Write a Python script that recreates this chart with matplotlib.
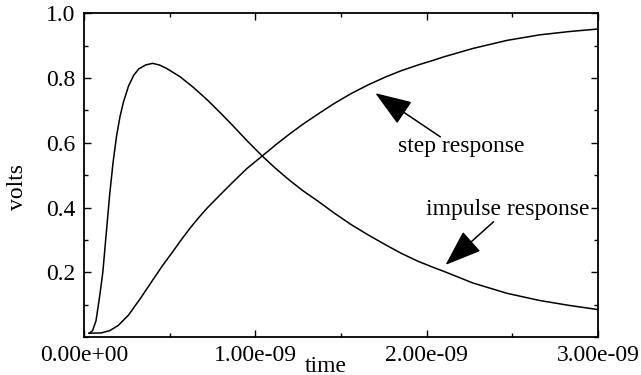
import numpy as np
import matplotlib
matplotlib.use('Agg')
import matplotlib.pyplot as plt
from matplotlib.ticker import MultipleLocator, FixedLocator

# ---- data (time in ns, volts) ----
t_impulse = [0.03, 0.05, 0.07, 0.09, 0.11, 0.13, 0.15, 0.17, 0.19, 0.21, 0.23,
             0.26, 0.29, 0.32, 0.36, 0.40, 0.44, 0.48, 0.56, 0.64, 0.72, 0.80,
             0.87, 0.95, 1.04, 1.12, 1.20, 1.28, 1.37, 1.46, 1.56, 1.66, 1.76,
             1.85, 1.95, 2.03, 2.10, 2.27, 2.47, 2.66, 2.83, 3.00]
v_impulse = [0.012, 0.02, 0.05, 0.12, 0.20, 0.32, 0.44, 0.54, 0.62, 0.68, 0.725,
             0.775, 0.808, 0.828, 0.840, 0.845, 0.840, 0.830, 0.804, 0.770, 0.732, 0.690,
             0.652, 0.607, 0.559, 0.520, 0.484, 0.451, 0.418, 0.383, 0.347, 0.315, 0.285,
             0.259, 0.234, 0.217, 0.203, 0.167, 0.135, 0.113, 0.098, 0.085]

t_step = [0.03, 0.10, 0.15, 0.20, 0.26, 0.33, 0.40, 0.46, 0.52, 0.57, 0.62, 0.67,
          0.72, 0.80, 0.87, 0.95, 1.04, 1.12, 1.20, 1.28, 1.37, 1.46, 1.56, 1.66,
          1.76, 1.85, 1.95, 2.03, 2.10, 2.27, 2.47, 2.66, 2.83, 3.00]
v_step = [0.012, 0.013, 0.02, 0.036, 0.068, 0.12, 0.175, 0.222, 0.265, 0.302, 0.337, 0.369,
          0.399, 0.442, 0.479, 0.520, 0.559, 0.594, 0.627, 0.658, 0.690, 0.721, 0.752, 0.779,
          0.803, 0.822, 0.840, 0.853, 0.865, 0.891, 0.916, 0.933, 0.943, 0.951]

x_ticks = [0.0, 1e-9, 2e-9, 3e-9]
x_labels = ['0.00e+00', '1.00e-09', '2.00e-09', '3.00e-09']
y_ticks = [0.2, 0.4, 0.6, 0.8, 1.0]
y_labels = ['0.2', '0.4', '0.6', '0.8', '1.0']

plt.rcParams['font.family'] = ['Liberation Serif', 'DejaVu Serif']
fs = 17

fig = plt.figure(figsize=(6.41, 3.75), dpi=100)
ax = fig.add_axes([0.131, 0.101, 0.802, 0.864])

ax.plot(np.array(t_impulse) * 1e-9, v_impulse, color='black', lw=1.1)
ax.plot(np.array(t_step) * 1e-9, v_step, color='black', lw=1.1)

ax.set_xlim(0, 3e-9)
ax.set_ylim(0, 1.0)
ax.xaxis.set_major_locator(FixedLocator(x_ticks))
ax.set_xticklabels(x_labels)
ax.xaxis.set_minor_locator(MultipleLocator(0.5e-9))
ax.yaxis.set_major_locator(FixedLocator(y_ticks))
ax.set_yticklabels(y_labels)
ax.yaxis.set_minor_locator(MultipleLocator(0.1))
ax.tick_params(which='both', direction='in', top=True, right=True, labelsize=fs, width=1)
ax.tick_params(which='major', length=5, pad=6)
ax.tick_params(which='minor', length=3)
for s in ax.spines.values():
    s.set_linewidth(1.3)

fig.text(0.508, 0.024, 'time', fontsize=fs, ha='center', va='center')
fig.text(0.028, 0.50, 'volts', fontsize=fs, ha='center', va='center', rotation=90)

# arrows with big filled heads
arrow = dict(arrowstyle='-|>,head_length=1.15,head_width=0.42', color='black',
             lw=1.1, mutation_scale=20, shrinkA=0, shrinkB=0)
ax.annotate('', xy=(1.70e-9, 0.753), xytext=(2.08e-9, 0.618), arrowprops=arrow)
ax.text(2.20e-9, 0.587, 'step response', fontsize=fs, ha='center', va='center')
ax.annotate('', xy=(2.11e-9, 0.223), xytext=(2.39e-9, 0.356), arrowprops=arrow)
ax.text(2.475e-9, 0.393, 'impulse response', fontsize=fs, ha='center', va='center')

fig.savefig('out.png', dpi=100)
